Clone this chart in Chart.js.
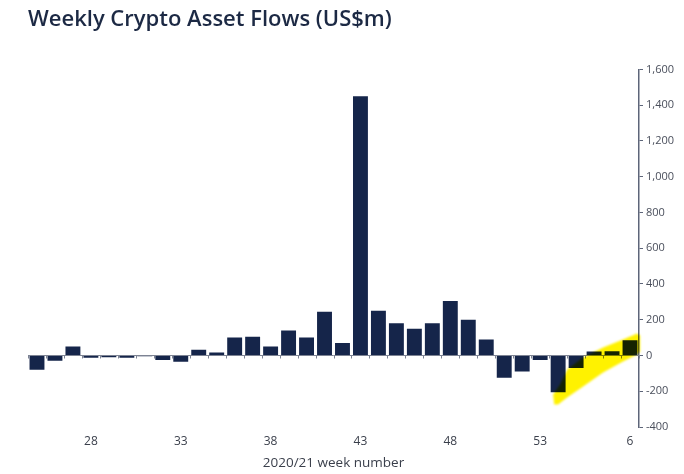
<!DOCTYPE html>
<html>
<head>
<meta charset="utf-8">
<script src="https://cdn.jsdelivr.net/npm/chart.js@4.4.0/dist/chart.umd.min.js"></script>
<style>
    html, body { margin: 0; padding: 0; background: #fff; }
    #wrap { width: 684px; height: 474px; }
</style>
</head>
<body>
<div id="wrap"><canvas id="flowChart" width="684" height="474"></canvas></div>
<script>
// Weekly crypto asset flows, US$m
const weeks = ['25', '26', '27', '28', '29', '30', '31', '32', '33', '34', '35', '36',
    '37', '38', '39', '40', '41', '42', '43', '44', '45', '46', '47', '48', '49', '50',
    '51', '52', '53', '2', '3', '4', '5', '6'];
const flows = [-80, -30, 50, -12, -10, -12, -5, -25, -35, 32, 17, 100,
    105, 50, 140, 100, 245, 70, 1450, 250, 180, 150, 180, 305, 200, 90,
    -125, -90, -25, -205, -70, 22, 24, 85];
const yTicks = { min: -400, max: 1600, step: 200 };

// highlighter stroke, in [week index, US$m]
const highlightPath = [
    [28.72, -218], [29.11, -162], [29.5, -78], [30.39, -11], [31.5, 45], [32.61, 89], [33.39, 123],
    [33.56, 112], [33.56, 22], [33.39, 6], [32.61, -34], [31.5, -95], [30.39, -173],
    [29.5, -235], [29, -274], [28.78, -274]
];

const NAVY = '#15254a';
const AXIS = '#5d6579';

// zero line with small tick marks at the category edges
const zeroLinePlugin = {
    id: 'zeroLine',
    beforeDatasetsDraw(chart) {
        const { ctx, chartArea, scales: { x, y } } = chart;
        const y0 = Math.round(y.getPixelForValue(0)) + 0.5;
        ctx.save();
        ctx.strokeStyle = '#7d8393';
        ctx.lineWidth = 1;
        ctx.beginPath();
        ctx.moveTo(chartArea.left, y0);
        ctx.lineTo(chartArea.right, y0);
        for (let i = 0; i <= weeks.length; i++) {
            const px = Math.round(x.getPixelForValue(i - 0.5)) + 0.5;
            ctx.moveTo(px, y0);
            ctx.lineTo(px, y0 + 3);
        }
        ctx.stroke();
        ctx.restore();
    }
};

const highlightPlugin = {
    id: 'highlight',
    afterDatasetsDraw(chart) {
        const { ctx, scales: { x, y } } = chart;
        ctx.save();
        ctx.globalCompositeOperation = 'multiply';
        ctx.filter = 'blur(1px)';
        ctx.fillStyle = 'rgb(255, 242, 0)';
        ctx.beginPath();
        highlightPath.forEach(([i, v], k) => {
            const px = x.getPixelForValue(i);
            const py = y.getPixelForValue(v);
            if (k === 0) ctx.moveTo(px, py); else ctx.lineTo(px, py);
        });
        ctx.closePath();
        ctx.fill();
        ctx.restore();
    }
};

new Chart(document.getElementById('flowChart'), {
    type: 'bar',
    data: {
        labels: weeks,
        datasets: [{
            data: flows,
            backgroundColor: NAVY,
            borderWidth: 0,
            barPercentage: 0.83,
            categoryPercentage: 1
        }]
    },
    options: {
        responsive: false,
        animation: false,
        devicePixelRatio: 1,
        layout: { padding: { left: 28, right: 0, top: 0, bottom: 0 } },
        plugins: {
            legend: { display: false },
            tooltip: { enabled: false },
            title: {
                display: true,
                text: 'Weekly Crypto Asset Flows (US$m)',
                align: 'start',
                color: '#1c2944',
                font: { family: 'Open Sans', size: 22, weight: '600' },
                padding: { top: 7, bottom: 36 }
            }
        },
        scales: {
            x: {
                grid: { display: false, drawTicks: false },
                border: { display: false },
                ticks: {
                    autoSkip: false,
                    maxRotation: 0,
                    padding: 7,
                    color: '#3a3f4b',
                    font: { family: 'Open Sans', size: 12 },
                    callback: (val, idx) => (idx % 5 === 3 ? weeks[idx] : '')
                },
                title: {
                    display: true,
                    text: '2020/21 week number',
                    color: '#3a3f4b',
                    font: { family: 'Open Sans', size: 13.5 },
                    padding: { top: 0, bottom: 3 }
                },
                afterFit: (scale) => { scale.height = 47; }
            },
            y: {
                position: 'right',
                min: yTicks.min,
                max: yTicks.max,
                ticks: {
                    stepSize: yTicks.step,
                    padding: 3,
                    color: '#4a4f5c',
                    font: { family: 'Open Sans', size: 11 }
                },
                grid: { drawOnChartArea: false, drawTicks: true, tickLength: 4, color: AXIS },
                border: { display: true, color: AXIS, width: 1.5 },
                afterFit: (scale) => { scale.width = 45; }
            }
        }
    },
    plugins: [zeroLinePlugin, highlightPlugin]
});
</script>
</body>
</html>
